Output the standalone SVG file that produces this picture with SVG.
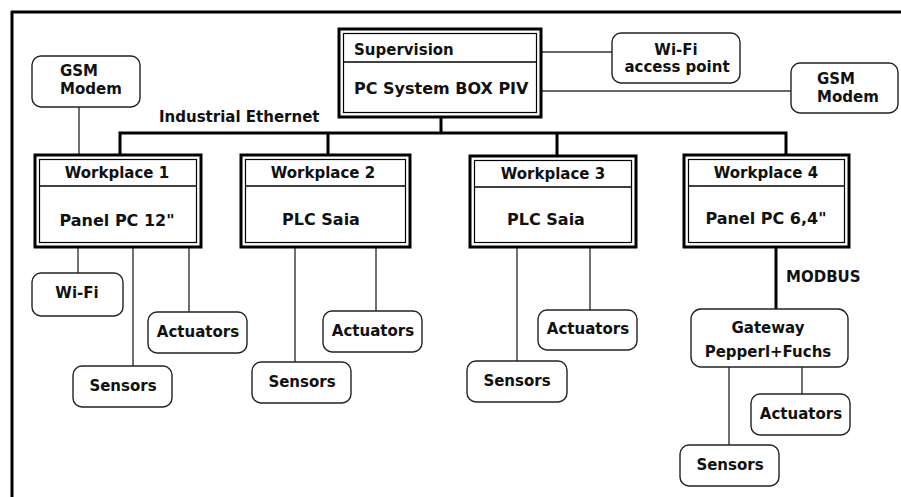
<svg xmlns="http://www.w3.org/2000/svg" width="901" height="497" viewBox="0 0 901 497">
<style>
text{font-family:"DejaVu Sans","Liberation Sans",sans-serif;font-weight:bold;font-size:15px;fill:#111}
.c{text-anchor:middle}
.big{font-size:16px}
.outer{fill:#fff;stroke:#000;stroke-width:3}
.inner{fill:none;stroke:#000;stroke-width:1.2}
.div{stroke:#000;stroke-width:1.5}
.rb{fill:#fff;stroke:#222;stroke-width:1.4}
.thin{stroke:#333;stroke-width:1.4;fill:none}
.thick{stroke:#000;stroke-width:3;fill:none}
</style>
<rect width="901" height="497" fill="#fff"/>
<g id="frame">
<line x1="11" y1="12" x2="901" y2="12" stroke="#000" stroke-width="3"/>
<line x1="12" y1="11" x2="12" y2="497" stroke="#000" stroke-width="3"/>
</g>
<g id="connectors">
<line class="thin" x1="537" y1="52" x2="612" y2="52"/>
<line class="thin" x1="537" y1="91" x2="791" y2="91"/>
<line class="thin" x1="79" y1="107" x2="79" y2="155"/>
<line class="thick" x1="441" y1="118" x2="441" y2="133"/>
<polyline class="thick" points="120,155 120,133 786,133 786,155"/>
<line class="thick" x1="328" y1="133" x2="328" y2="155"/>
<line class="thick" x1="557" y1="133" x2="557" y2="155"/>
<line class="thin" x1="78" y1="248" x2="78" y2="273"/>
<line class="thin" x1="133" y1="248" x2="133" y2="366"/>
<line class="thin" x1="189" y1="248" x2="189" y2="312"/>
<line class="thin" x1="295" y1="248" x2="295" y2="362"/>
<line class="thin" x1="376" y1="248" x2="376" y2="311"/>
<line class="thin" x1="517" y1="248" x2="517" y2="361"/>
<line class="thin" x1="590" y1="248" x2="590" y2="310"/>
<line class="thick" x1="776" y1="248" x2="776" y2="309"/>
<line class="thin" x1="729" y1="367" x2="729" y2="445"/>
<line class="thin" x1="802" y1="367" x2="802" y2="394"/>
<text x="159" y="122">Industrial Ethernet</text>
<text x="786" y="282">MODBUS</text>
</g>
<g id="supervision">
<rect class="outer" x="339" y="29" width="202" height="88"/>
<rect class="inner" x="343.5" y="33.5" width="193" height="79"/>
<line class="div" x1="343.5" y1="62" x2="536.5" y2="62"/>
<text x="354" y="55">Supervision</text>
<text class="big" x="354" y="94">PC System BOX PIV</text>
</g>
<g id="wifi-ap">
<rect class="rb" x="612" y="33" width="128" height="50" rx="9"/>
<text class="c" x="676" y="55">Wi-Fi</text>
<text class="c" x="677" y="72">access point</text>
</g>
<g id="gsm-right">
<rect class="rb" x="791" y="63" width="107" height="50" rx="9"/>
<text x="817" y="84">GSM</text>
<text x="817" y="102">Modem</text>
</g>
<g id="gsm-left">
<rect class="rb" x="32" y="56" width="108" height="51" rx="9"/>
<text x="60" y="76">GSM</text>
<text x="60" y="94">Modem</text>
</g>
<g id="workplace1">
<rect class="outer" x="35" y="155" width="166" height="92"/>
<rect class="inner" x="39.5" y="159.5" width="157" height="83"/>
<line class="div" x1="39.5" y1="186" x2="196.5" y2="186"/>
<text class="c" x="117" y="178">Workplace 1</text>
<text class="c big" x="117" y="226">Panel PC 12"</text>
</g>
<g id="workplace2">
<rect class="outer" x="241" y="155" width="169" height="92"/>
<rect class="inner" x="245.5" y="159.5" width="160" height="83"/>
<line class="div" x1="245.5" y1="186" x2="405.5" y2="186"/>
<text class="c" x="323" y="178">Workplace 2</text>
<text class="c big" x="321" y="225">PLC Saia</text>
</g>
<g id="workplace3">
<rect class="outer" x="470" y="156" width="166" height="91"/>
<rect class="inner" x="474.5" y="160.5" width="157" height="82"/>
<line class="div" x1="474.5" y1="187" x2="631.5" y2="187"/>
<text class="c" x="553" y="179">Workplace 3</text>
<text class="c big" x="546" y="225">PLC Saia</text>
</g>
<g id="workplace4">
<rect class="outer" x="684" y="155" width="165" height="92"/>
<rect class="inner" x="688.5" y="159.5" width="156" height="83"/>
<line class="div" x1="688.5" y1="186" x2="844.5" y2="186"/>
<text class="c" x="766" y="178">Workplace 4</text>
<text class="c big" x="766" y="224">Panel PC 6,4"</text>
</g>
<g id="wifi1">
<rect class="rb" x="32" y="273" width="91" height="43" rx="9"/>
<text class="c" x="77" y="298">Wi-Fi</text>
</g>
<g id="actuators1">
<rect class="rb" x="148" y="312" width="99" height="41" rx="9"/>
<text class="c" x="198" y="337">Actuators</text>
</g>
<g id="sensors1">
<rect class="rb" x="73" y="366" width="99" height="41" rx="9"/>
<text class="c" x="123" y="391">Sensors</text>
</g>
<g id="actuators2">
<rect class="rb" x="323" y="311" width="99" height="41" rx="9"/>
<text class="c" x="373" y="336">Actuators</text>
</g>
<g id="sensors2">
<rect class="rb" x="252" y="362" width="99" height="41" rx="9"/>
<text class="c" x="302" y="387">Sensors</text>
</g>
<g id="actuators3">
<rect class="rb" x="538" y="310" width="99" height="40" rx="9"/>
<text class="c" x="588" y="334">Actuators</text>
</g>
<g id="sensors3">
<rect class="rb" x="467" y="361" width="100" height="41" rx="9"/>
<text class="c" x="517" y="386">Sensors</text>
</g>
<g id="gateway">
<rect class="rb" x="691" y="309" width="157" height="58" rx="10"/>
<text class="c" x="768" y="333">Gateway</text>
<text class="c" x="768" y="357">Pepperl+Fuchs</text>
</g>
<g id="actuators4">
<rect class="rb" x="751" y="394" width="99" height="41" rx="9"/>
<text class="c" x="801" y="419">Actuators</text>
</g>
<g id="sensors4">
<rect class="rb" x="680" y="445" width="99" height="41" rx="9"/>
<text class="c" x="730" y="470">Sensors</text>
</g>
</svg>
